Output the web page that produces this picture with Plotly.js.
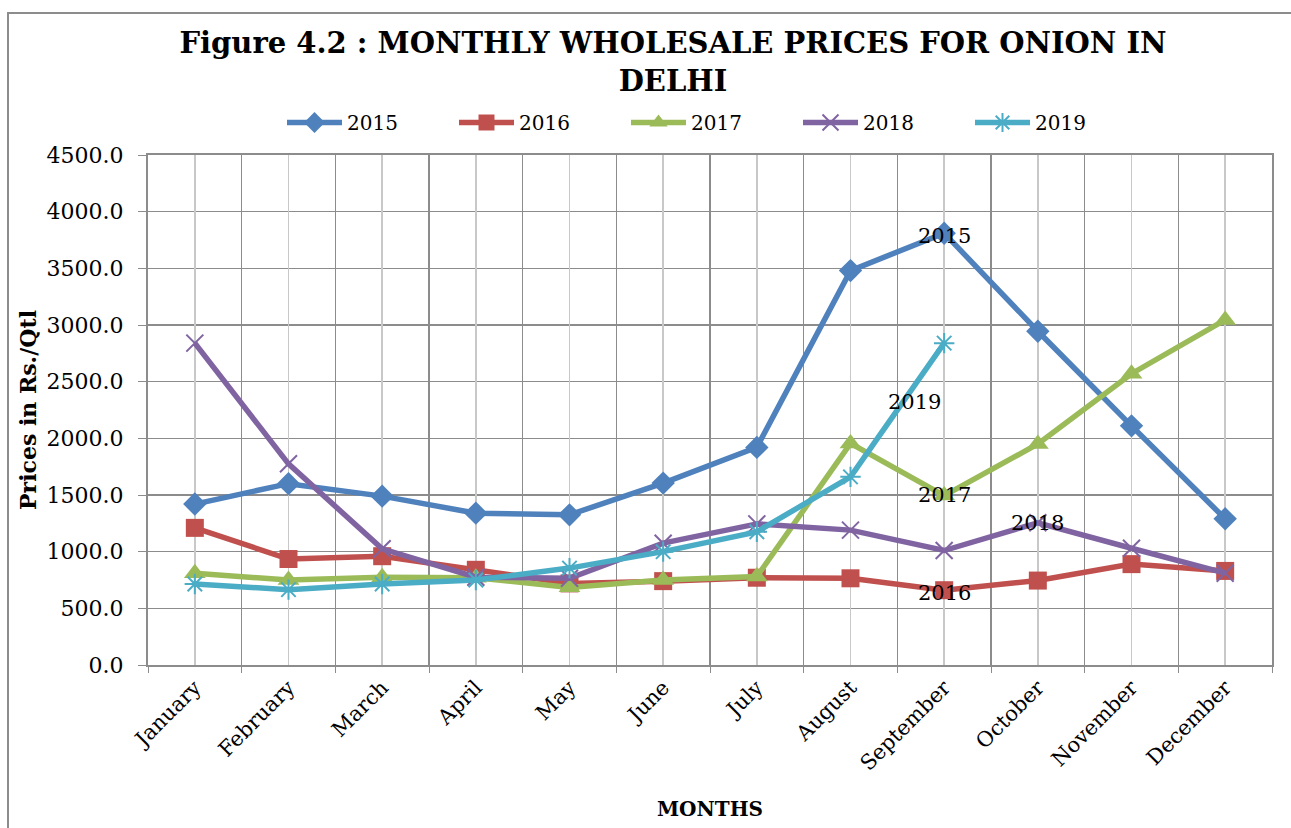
<!DOCTYPE html>
<html>
<head>
<meta charset="utf-8">
<script src="https://cdn.plot.ly/plotly-3.0.1.min.js"></script>
<style>
  html, body { margin: 0; padding: 0; background: #fff; }
  #wrap { position: relative; width: 1291px; height: 828px; overflow: hidden; }
  #chart { position: absolute; left: 0; top: 0; width: 1291px; height: 828px; }
  #frame { position: absolute; left: 7px; top: 12px; width: 1400px; height: 900px;
           border-left: 2px solid #8c8c8c; border-top: 2px solid #8c8c8c; pointer-events: none; }
</style>
</head>
<body>
<div id="wrap">
  <div id="chart"></div>
  <div id="frame"></div>
</div>
<script>
const months = ["January","February","March","April","May","June","July","August","September","October","November","December"];
const p2015 = [1420, 1600, 1490, 1340, 1325, 1605, 1920, 3480, 3810, 2945, 2110, 1290];
const p2016 = [1210, 935, 960, 840, 720, 740, 770, 765, 660, 745, 890, 830];
const p2017 = [810, 750, 775, 770, 685, 750, 780, 1955, 1495, 1950, 2570, 3045];
const p2018 = [2840, 1775, 1025, 775, 765, 1075, 1245, 1190, 1010, 1255, 1030, 810];
const p2019 = [715, 665, 715, 750, 855, 1000, 1175, 1660, 2840];
const seriesNames = ["2015","2016","2017","2018","2019"];

const serif = "DejaVu Serif, Liberation Serif, serif";
const colors = ["#4F81BD", "#C0504D", "#9BBB59", "#8064A2", "#4BACC6"];
const symbols = ["diamond", "square", "triangle-up", "x-thin-open", "asterisk-open"];
const msizes = [18, 18, 19, 17, 17];
const dataSets = [p2015, p2016, p2017, p2018, p2019];

const traces = dataSets.map((vals, i) => ({
  type: "scatter",
  mode: "lines+markers",
  name: seriesNames[i],
  x: months.slice(0, vals.length),
  y: vals,
  line: { color: colors[i], width: 5.5 },
  marker: { symbol: symbols[i], size: msizes[i], color: colors[i],
            line: { color: colors[i], width: (i >= 3 ? 2 : 0) } },
  hoverinfo: "x+y+name"
}));
// empty helper trace so the secondary x axis (light mid-category gridlines) gets its subplot
traces.push({ type: "scatter", x: [], y: [], xaxis: "x2", yaxis: "y", showlegend: false, hoverinfo: "skip" });

const annFont = { family: serif, size: 21, color: "#000" };
const annotations = [
  { x: "September", y: p2015[8], text: "2015", xshift: 0, yshift: -3 },
  { x: "September", y: p2016[8], text: "2016", xshift: 0, yshift: -3 },
  { x: "September", y: p2017[8], text: "2017", xshift: 0, yshift: 1 },
  { x: "October",   y: p2018[9], text: "2018", xshift: 0, yshift: 0 },
  { x: "September", y: p2019[8], text: "2019", xshift: -30, yshift: -59 }
].map(a => Object.assign({ xref: "x", yref: "y", showarrow: false, font: annFont,
                           xanchor: "center", yanchor: "middle" }, a));

const layout = {
  width: 1291, height: 828,
  paper_bgcolor: "rgba(0,0,0,0)", plot_bgcolor: "#fff",
  margin: { l: 148, r: 19, t: 155, b: 163 },
  title: {
    text: "Figure 4.2 : MONTHLY WHOLESALE PRICES FOR ONION IN<br>DELHI",
    font: { family: serif, size: 29, color: "#000", weight: "bold" },
    x: 673 / 1291, xref: "container", xanchor: "center",
    y: 1 - 53 / 828, yref: "container", yanchor: "top"
  },
  showlegend: true,
  legend: {
    orientation: "h", xref: "container", yref: "container",
    x: 282 / 1291, y: 1 - 103 / 828, xanchor: "left", yanchor: "top",
    itemwidth: 55,
    entrywidth: 102, entrywidthmode: "pixels",
    font: { family: serif, size: 20, color: "#000" },
    bgcolor: "rgba(0,0,0,0)", traceorder: "normal"
  },
  xaxis: {
    type: "category", categoryorder: "array", categoryarray: months,
    range: [-0.5, 11.5],
    tickson: "boundaries", ticks: "outside", ticklen: 6, tickcolor: "#8c8c8c",
    showgrid: true, gridcolor: "#8c8c8c", gridwidth: 1.5,
    showline: true, linecolor: "#8c8c8c", linewidth: 2, mirror: true,
    tickangle: -45,
    tickfont: { family: serif, size: 21, color: "#000" },
    title: { text: "MONTHS", font: { family: serif, size: 20, color: "#000", weight: "bold" }, standoff: 28 },
    automargin: false
  },
  xaxis2: {
    overlaying: "x", anchor: "y", type: "linear", range: [-0.5, 11.5],
    tick0: 0, dtick: 1, showgrid: true, gridcolor: "#c8c8c8", gridwidth: 1.5,
    showticklabels: false, ticks: "", zeroline: false, showline: false
  },
  yaxis: {
    range: [0, 4500], dtick: 500, tick0: 0, tickformat: ".1f",
    ticks: "outside", ticklen: 8, tickcolor: "#8c8c8c", ticklabelstandoff: 10,
    showgrid: true, gridcolor: "#8c8c8c", gridwidth: 1.5, zeroline: false,
    showline: true, linecolor: "#8c8c8c", linewidth: 2, mirror: true,
    tickfont: { family: serif, size: 22, color: "#000" },
    title: { text: "Prices in Rs./Qtl", font: { family: serif, size: 22, color: "#000", weight: "bold" }, standoff: 4 },
    automargin: false
  },
  annotations: annotations
};

Plotly.newPlot("chart", traces, layout, { displayModeBar: false, staticPlot: true });
</script>
</body>
</html>
